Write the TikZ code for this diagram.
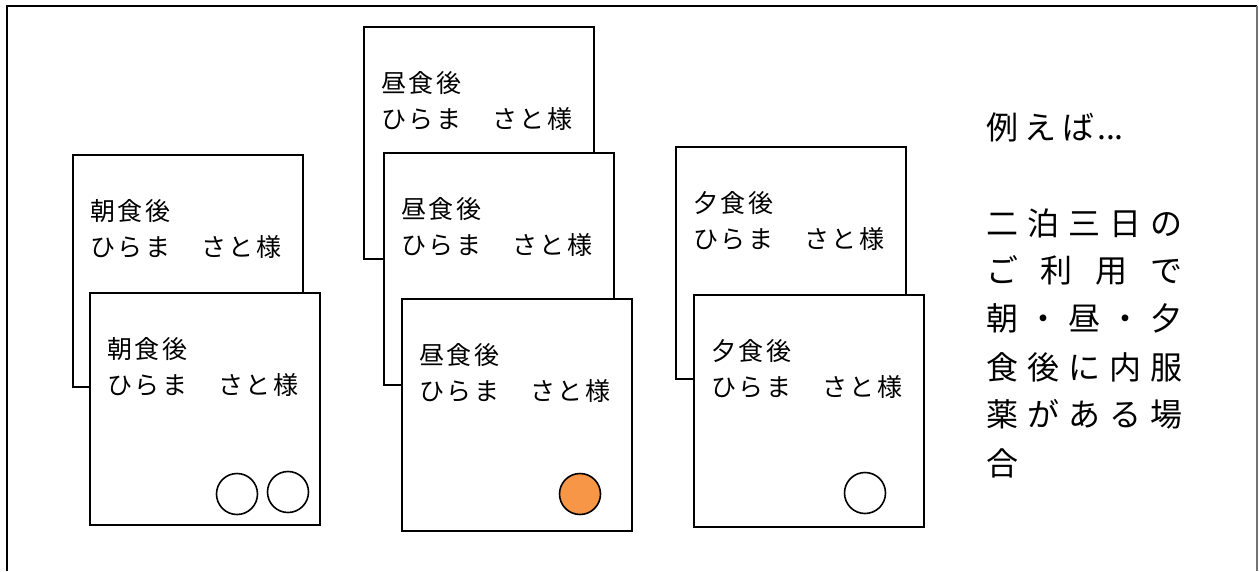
\documentclass[tikz,border=0pt]{standalone}
\usepackage{fontspec}
\setmainfont{Noto Sans CJK JP}
\newfontfamily\cardfont[LetterSpace=11]{Noto Sans CJK JP}
\newfontfamily\notefont{Noto Sans CJK JP}
\newcommand\mycardlabel[2]{%
  \node[lbl] (#1-t1) at ([shift={(18pt,-57pt)}]#1.north west) {#2食後};
  \node[lbl] (#1-t2) at ([shift={(18pt,-93pt)}]#1.north west) {ひらま　さと様};
}
\begin{document}
\begin{tikzpicture}[x=1pt,y=-1pt,
  card/.style={draw=black,line width=1.6pt,fill=white,minimum width=230pt,minimum height=232pt,inner sep=0pt,anchor=north west},
  lbl/.style={anchor=west,inner sep=0pt,font=\cardfont\fontsize{25pt}{28pt}\selectfont},
  pill/.style={circle,draw=black,line width=1.6pt,minimum size=41pt,inner sep=0pt},
  note/.style={anchor=west,inner sep=0pt,font=\notefont\fontsize{32pt}{36pt}\selectfont}]
\useasboundingbox (0,0) rectangle (1259,571);
% outer frame
\draw[line width=1.6pt] (7,571) -- (7,6) -- (1257,6);
\draw[line width=1.2pt,black!55] (1257,6) -- (1257,571);

% morning
\node[card] (m1) at (72,154) {};
\mycardlabel{m1}{朝}
\node[card] (m2) at (89,292) {};
\mycardlabel{m2}{朝}
\node[pill] (m2a) at (237,494) {};
\node[pill] (m2b) at (288,492) {};

% lunch
\node[card] (l1) at (363,26) {};
\mycardlabel{l1}{昼}
\node[card] (l2) at (383,152) {};
\mycardlabel{l2}{昼}
\node[card] (l3) at (401,298) {};
\mycardlabel{l3}{昼}
\node[pill,fill={rgb,255:red,247;green,150;blue,70}] (l3a) at (580,494) {};

% dinner
\node[card] (d1) at (675,146) {};
\mycardlabel{d1}{夕}
\node[card] (d2) at (693,294) {};
\mycardlabel{d2}{夕}
\node[pill] (d2a) at (865,493) {};

% note
\node[note] (n0) at (986,127) {例\hspace{6pt}え\hspace{6pt}ば\hspace{3pt}...};
\node[note] (n1) at (986,223) {\makebox[196pt][s]{二\hfill 泊\hfill 三\hfill 日\hfill の}};
\node[note] (n2) at (986,270) {\makebox[196pt][s]{ご\hfill 利\hfill 用\hfill で}};
\node[note] (n3) at (986,318) {\makebox[196pt][s]{朝\hfill ・\hfill 昼\hfill ・\hfill 夕}};
\node[note] (n4) at (986,367) {\makebox[196pt][s]{食\hfill 後\hfill に\hfill 内\hfill 服}};
\node[note] (n5) at (986,414) {\makebox[196pt][s]{薬\hfill が\hfill あ\hfill る\hfill 場}};
\node[note] (n6) at (986,463) {合};
\end{tikzpicture}
\end{document}
